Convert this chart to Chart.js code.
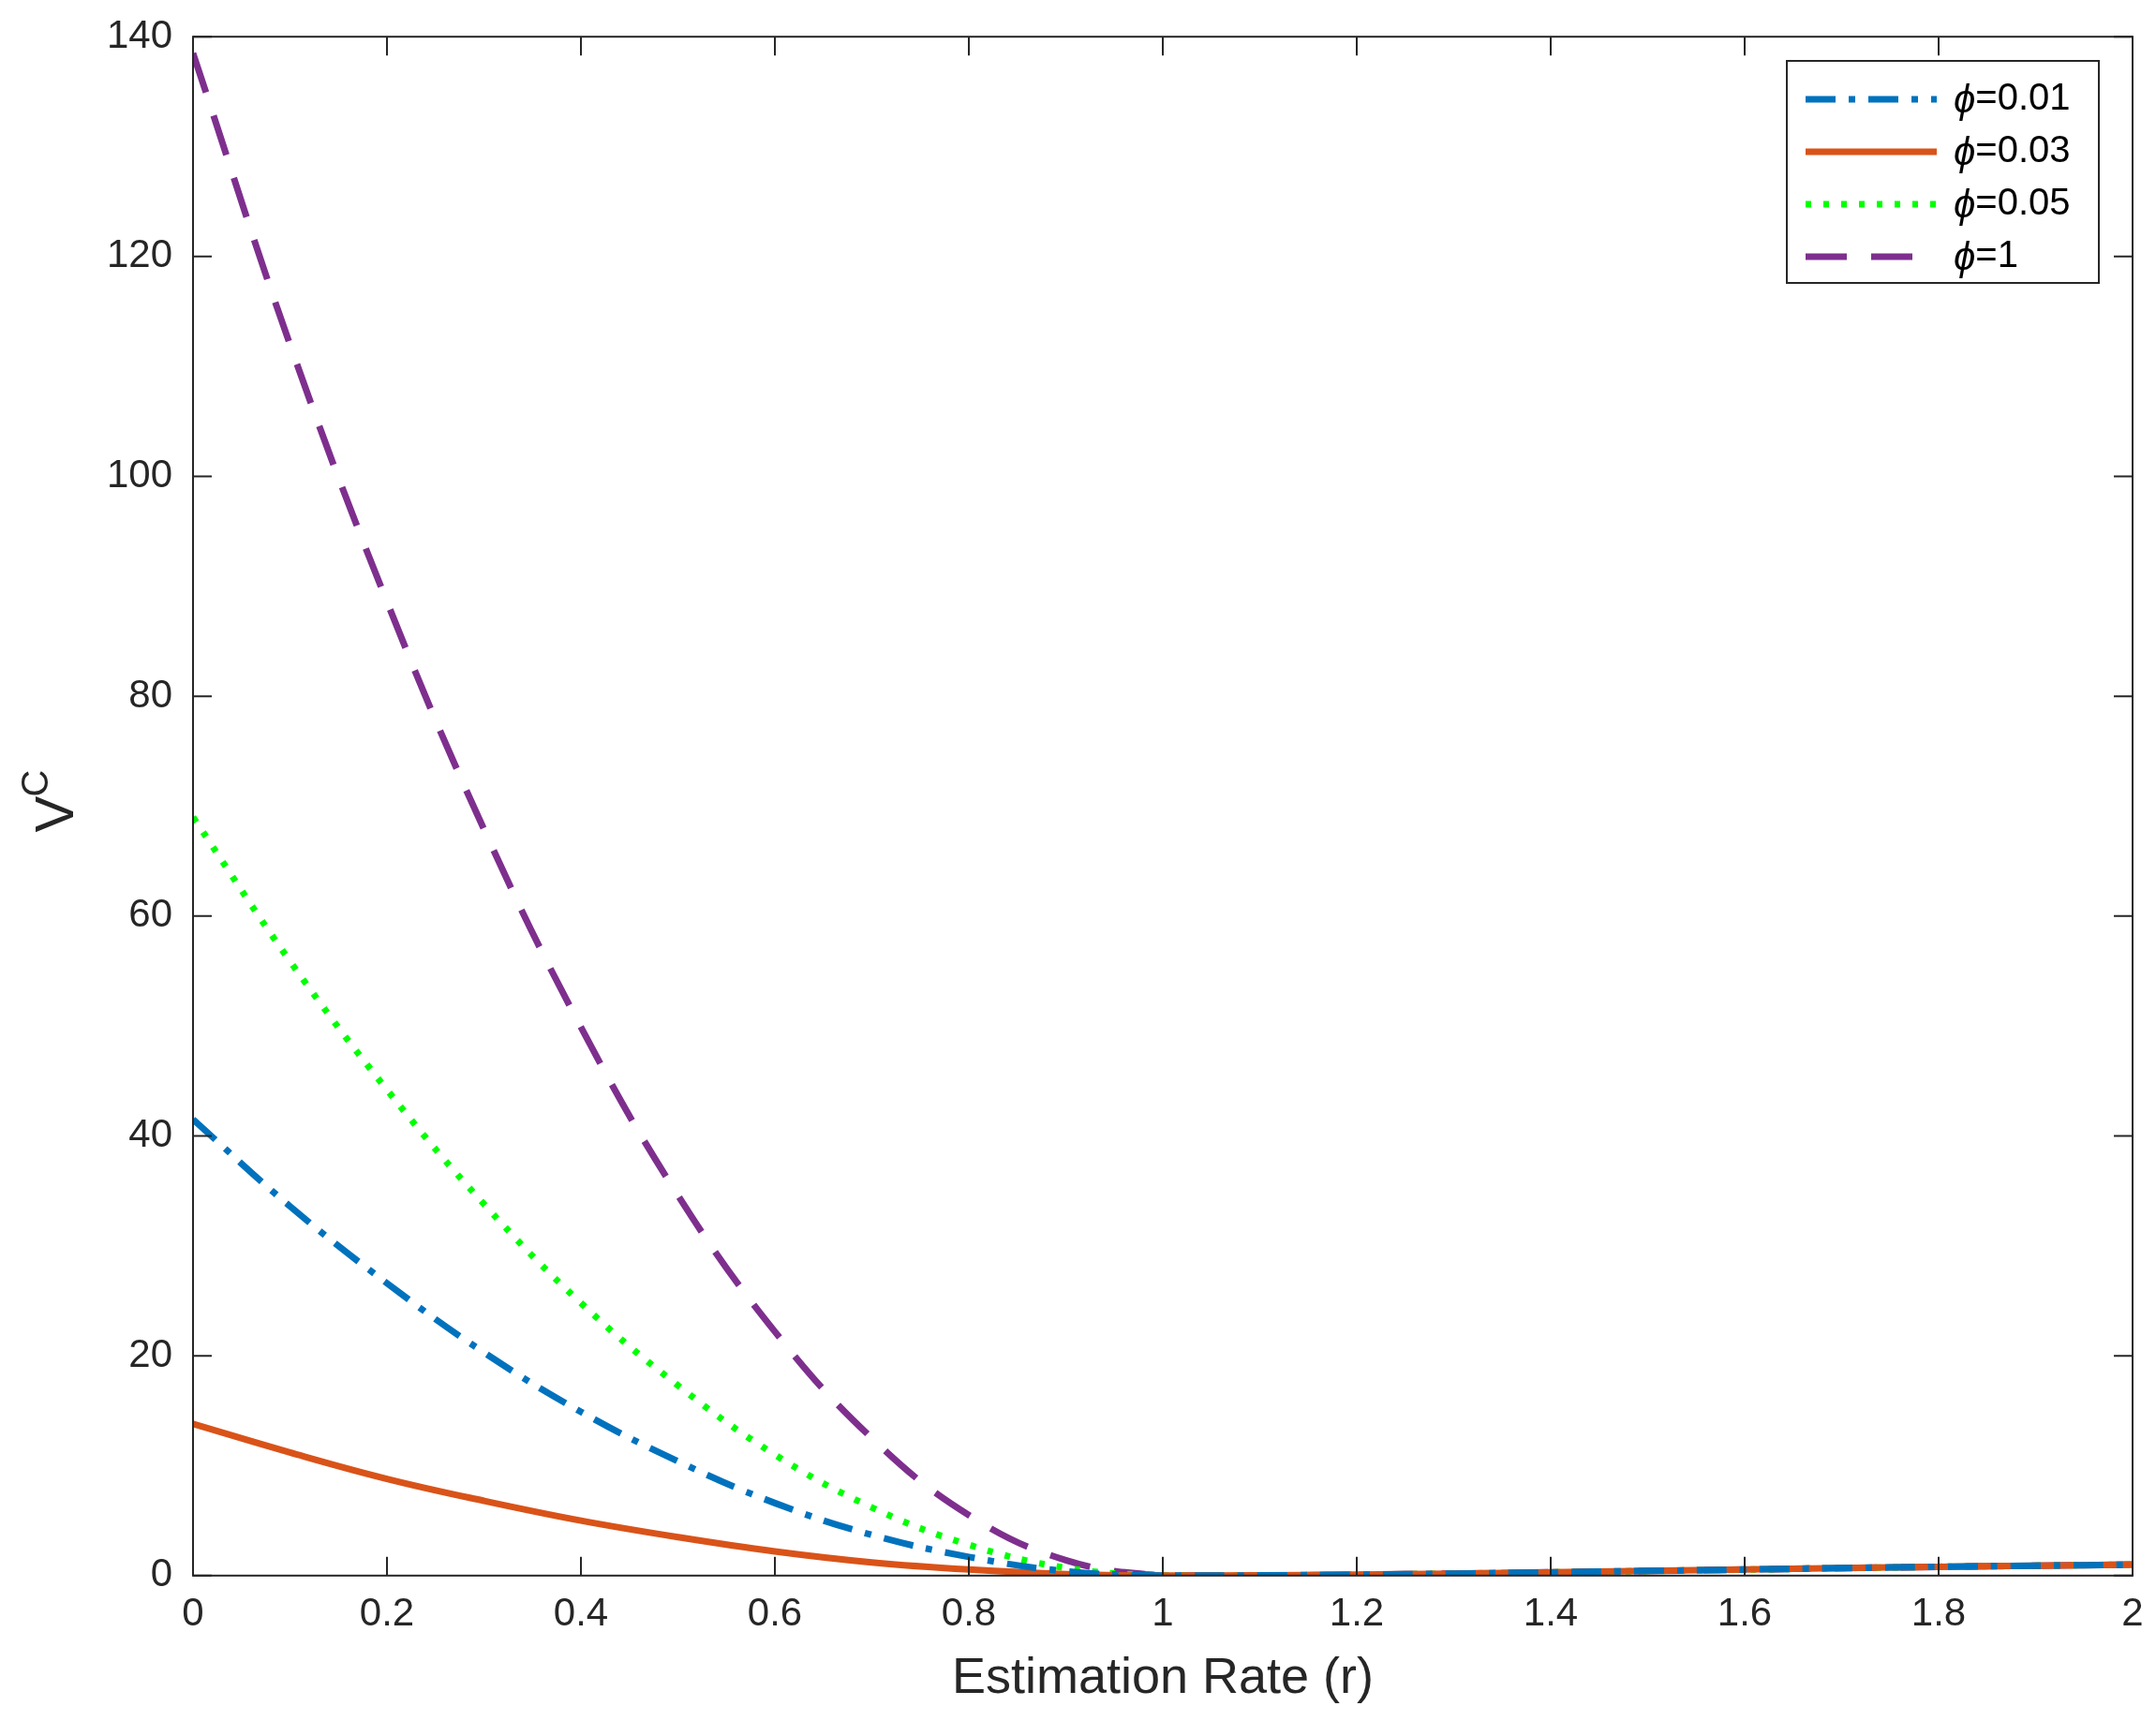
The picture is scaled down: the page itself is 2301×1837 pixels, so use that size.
<!DOCTYPE html>
<html>
<head>
<meta charset="utf-8">
<script src="https://cdn.jsdelivr.net/npm/chart.js@4"></script>
<style>
  html, body { margin: 0; padding: 0; background: #fff; }
  #wrap { width: 2301px; height: 1837px; }
</style>
</head>
<body>
<div id="wrap"><canvas id="vc"></canvas></div>
<script>
const rValues = [0, 0.1, 0.2, 0.3, 0.4, 0.5, 0.6, 0.7, 0.8, 0.9, 1.0, 1.1, 1.2, 1.3, 1.4, 1.5, 1.6, 1.7, 1.8, 1.9, 2.0];
const phi001 = [41.5, 33.6, 26.6, 20.3, 14.9, 10.4, 6.6, 3.7, 1.7, 0.4, 0, 0.02, 0.08, 0.18, 0.3, 0.42, 0.55, 0.68, 0.8, 0.9, 1.0];
const phi003 = [13.8, 11.2, 8.8, 6.8, 5.0, 3.5, 2.2, 1.2, 0.55, 0.14, 0, 0.02, 0.08, 0.18, 0.3, 0.42, 0.55, 0.68, 0.8, 0.9, 1.0];
const phi005 = [69.0, 55.9, 44.2, 33.8, 24.8, 17.3, 11.0, 6.2, 2.8, 0.7, 0, 0.02, 0.08, 0.18, 0.3, 0.42, 0.55, 0.68, 0.8, 0.9, 1.0];
const phi1 = [138.5, 112.0, 88.6, 67.9, 49.9, 34.6, 22.2, 12.5, 5.5, 1.4, 0, 0.02, 0.08, 0.18, 0.3, 0.42, 0.55, 0.68, 0.8, 0.9, 1.0];
const seriesLabels = ['=0.01', '=0.03', '=0.05', '=1'];
const xTicks = [0, 0.2, 0.4, 0.6, 0.8, 1, 1.2, 1.4, 1.6, 1.8, 2];
const yTicks = [0, 20, 40, 60, 80, 100, 120, 140];

const FONT = 'Liberation Sans, Arial, sans-serif';
const pts = arr => arr.map((v, i) => ({ x: rValues[i], y: v }));

// inward ticks on all four sides, box, y title and legend
const frame = {
  id: 'frame',
  afterDraw(chart) {
    const { ctx, chartArea: a, scales } = chart;
    ctx.save();
    ctx.strokeStyle = '#262626';
    ctx.lineWidth = 2;
    ctx.strokeRect(a.left, a.top, a.right - a.left, a.bottom - a.top);
    const L = 20;
    ctx.beginPath();
    xTicks.forEach(t => {
      const x = scales.x.getPixelForValue(t);
      ctx.moveTo(x, a.bottom); ctx.lineTo(x, a.bottom - L);
      ctx.moveTo(x, a.top); ctx.lineTo(x, a.top + L);
    });
    yTicks.forEach(t => {
      const y = scales.y.getPixelForValue(t);
      ctx.moveTo(a.left, y); ctx.lineTo(a.left + L, y);
      ctx.moveTo(a.right, y); ctx.lineTo(a.right - L, y);
    });
    ctx.stroke();

    ctx.fillStyle = '#262626';
    ctx.translate(62, (a.top + a.bottom) / 2);
    ctx.rotate(-Math.PI / 2);
    ctx.textBaseline = 'middle';
    ctx.font = '58px ' + FONT;
    ctx.fillText('V', -28, 0);
    ctx.font = '40px ' + FONT;
    ctx.fillText('C', 10, -22);
    ctx.restore();

    ctx.save();
    const bx = 1907, by = 65, bw = 333, bh = 237;
    ctx.fillStyle = '#fff';
    ctx.fillRect(bx, by, bw, bh);
    ctx.strokeStyle = '#262626';
    ctx.lineWidth = 2;
    ctx.strokeRect(bx, by, bw, bh);
    chart.data.datasets.forEach((ds, i) => {
      const y = by + 41 + i * 56;
      ctx.strokeStyle = ds.borderColor;
      ctx.lineWidth = ds.borderWidth;
      ctx.setLineDash(ds.borderDash || []);
      ctx.beginPath();
      ctx.moveTo(bx + 20, y); ctx.lineTo(bx + 160, y);
      ctx.stroke();
      ctx.setLineDash([]);
      ctx.fillStyle = '#000';
      ctx.textBaseline = 'middle';
      ctx.font = 'italic 42px ' + FONT;
      ctx.fillText('\u03d5', bx + 178, y + 2);
      const w = ctx.measureText('\u03d5').width;
      ctx.font = '40px ' + FONT;
      ctx.fillText(ds.label, bx + 178 + w, y);
    });
    ctx.restore();
  }
};

new Chart(document.getElementById('vc'), {
  type: 'line',
  data: {
    datasets: [
      { label: seriesLabels[0], data: pts(phi001), borderColor: '#0072BD', borderWidth: 7, borderDash: [32, 14, 7, 14] },
      { label: seriesLabels[1], data: pts(phi003), borderColor: '#D95319', borderWidth: 7 },
      { label: seriesLabels[2], data: pts(phi005), borderColor: '#00FF00', borderWidth: 7, borderDash: [6, 13] },
      { label: seriesLabels[3], data: pts(phi1), borderColor: '#7E2F8E', borderWidth: 7, borderDash: [44, 26] }
    ].map(d => Object.assign(d, { pointRadius: 0, tension: 0.4, fill: false }))
  },
  options: {
    responsive: true,
    maintainAspectRatio: false,
    animation: false,
    devicePixelRatio: 1,
    layout: { padding: { left: 30, right: 25, top: 28, bottom: 8 } },
    plugins: { legend: { display: false }, tooltip: { enabled: false } },
    scales: {
      x: {
        type: 'linear', min: 0, max: 2,
        grid: { display: false },
        border: { display: false },
        afterBuildTicks: s => { s.ticks = xTicks.map(v => ({ value: v })); },
        ticks: { color: '#262626', font: { size: 42, family: FONT }, padding: 8, maxRotation: 0,
                 callback: v => String(v) },
        title: { display: true, text: 'Estimation Rate (r)', color: '#262626', font: { size: 54, family: FONT }, padding: { top: 4 } }
      },
      y: {
        min: 0, max: 140,
        grid: { display: false },
        border: { display: false },
        afterBuildTicks: s => { s.ticks = yTicks.map(v => ({ value: v })); },
        afterFit: s => { s.width = 176; },
        ticks: { color: '#262626', font: { size: 42, family: FONT }, padding: 14 }
      }
    }
  },
  plugins: [frame]
});
</script>
</body>
</html>
